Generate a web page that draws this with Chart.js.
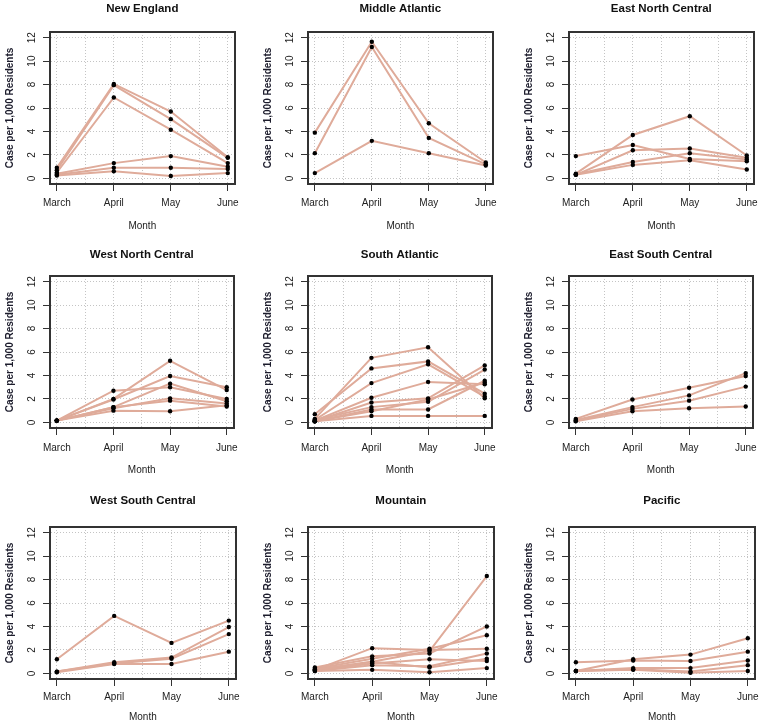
<!DOCTYPE html>
<html>
<head>
<meta charset="utf-8">
<title>Cases per 1,000 residents by census division</title>
<script src="https://cdn.jsdelivr.net/npm/chart.js@4.4.0/dist/chart.umd.min.js"></script>
<style>
  html, body { margin: 0; padding: 0; background: #fff; }
  #root { position: relative; width: 762px; height: 726px; overflow: hidden; background: #fff; }
  #root canvas { position: absolute; }
</style>
</head>
<body>
<div id="root"></div>
<script>
// months on the x axis, grid steps and y ticks
const months = ['March', 'April', 'May', 'June'];
const monthGrid = [1, 1.5, 2, 2.5, 3, 3.5, 4];
const yTicks = [0, 2, 4, 6, 8, 10, 12];

// one array per state, values for March..June
const newEngland = [
    [0.9, 8.05, 5.7, 1.8],
    [0.7, 7.95, 5.05, 1.75],
    [0.5, 6.9, 4.15, 1.3],
    [0.4, 1.3, 1.9, 1.0],
    [0.3, 0.9, 0.9, 0.8],
    [0.25, 0.6, 0.2, 0.45]
];
const middleAtlantic = [
    [3.9, 11.65, 4.7, 1.35],
    [2.15, 11.2, 3.45, 1.2],
    [0.45, 3.2, 2.15, 1.1]
];
const eastNorthCentral = [
    [0.4, 3.7, 5.3, 1.95],
    [1.9, 2.85, 1.65, 1.45],
    [0.3, 2.4, 2.55, 1.75],
    [0.35, 1.4, 2.15, 1.6],
    [0.3, 1.15, 1.55, 0.75]
];
const westNorthCentral = [
    [0.15, 2.0, 5.25, 2.75],
    [0.15, 2.7, 3.0, 2.0],
    [0.15, 1.95, 3.95, 3.0],
    [0.15, 1.3, 3.3, 1.8],
    [0.15, 1.2, 2.05, 1.6],
    [0.15, 1.3, 1.85, 1.35],
    [0.15, 1.0, 0.95, 1.45]
];
const southAtlantic = [
    [0.3, 5.5, 6.4, 2.05],
    [0.7, 4.6, 5.2, 2.45],
    [0.2, 3.35, 4.95, 2.2],
    [0.15, 2.1, 3.45, 3.25],
    [0.1, 1.7, 2.05, 4.85],
    [0.2, 1.3, 1.75, 4.5],
    [0.1, 1.1, 1.1, 3.55],
    [0.1, 0.95, 1.95, 3.4],
    [0.1, 0.55, 0.55, 0.55]
];
const eastSouthCentral = [
    [0.3, 1.95, 2.95, 3.95],
    [0.2, 1.3, 2.3, 4.2],
    [0.15, 1.15, 1.85, 3.05],
    [0.1, 0.95, 1.2, 1.35]
];
const westSouthCentral = [
    [1.2, 4.9, 2.6, 4.5],
    [0.15, 0.95, 1.35, 3.95],
    [0.15, 0.85, 1.25, 3.35],
    [0.1, 0.8, 0.8, 1.85]
];
const mountain = [
    [0.3, 1.0, 1.9, 8.3],
    [0.5, 1.45, 1.7, 4.0],
    [0.4, 1.25, 2.1, 3.25],
    [0.3, 2.15, 2.0, 2.1],
    [0.25, 0.85, 1.2, 1.05],
    [0.2, 0.7, 0.6, 1.7],
    [0.2, 0.3, 0.1, 0.45],
    [0.3, 1.0, 0.5, 1.25]
];
const pacific = [
    [0.2, 1.2, 1.6, 3.0],
    [0.95, 1.1, 1.05, 1.85],
    [0.2, 0.45, 0.45, 1.1],
    [0.2, 0.35, 0.15, 0.7],
    [0.2, 0.3, 0.05, 0.2]
];

const panels = [
    {title: 'New England', series: newEngland},
    {title: 'Middle Atlantic', series: middleAtlantic},
    {title: 'East North Central', series: eastNorthCentral},
    {title: 'West North Central', series: westNorthCentral},
    {title: 'South Atlantic', series: southAtlantic},
    {title: 'East South Central', series: eastSouthCentral},
    {title: 'West South Central', series: westSouthCentral},
    {title: 'Mountain', series: mountain},
    {title: 'Pacific', series: pacific}
];

// layout of one small panel
const FONT = '"Liberation Sans", Arial, sans-serif';
const LINE_COLOR = '#dfab9a';
const GRID_COLOR = '#c4c4c4';
const AXIS_COLOR = '#333333';
const TEXT_COLOR = '#222222';
const PLOT_LEFT = 50, PLOT_TOP = 36, PLOT_W = 187, PLOT_H = 152;
const CANVAS_W = 245, CANVAS_H = 240;
const colLeft = [0, 258, 519];
const rowTop = [-4, 240, 491];
const titlePadTop = [6.4, 8.4, 2.8];
const tickPad = [6, 7, 5];
const monthPad = [3.3, 3.7, 7.7];

const root = document.getElementById('root');

function makePanel(panel, idx) {
    const row = Math.floor(idx / 3);
    const col = idx % 3;
    const canvas = document.createElement('canvas');
    canvas.width = CANVAS_W;
    canvas.height = CANVAS_H;
    canvas.style.left = colLeft[col] + 'px';
    canvas.style.top = rowTop[row] + 'px';
    root.append(canvas);

    const toPoints = values => values.map((v, i) => ({x: i + 1, y: v}));
    // lines first, black points on top
    const lineSets = panel.series.map(values => ({
        data: toPoints(values),
        borderColor: LINE_COLOR,
        borderWidth: 2,
        pointRadius: 0,
        tension: 0,
        order: 2
    }));
    const pointSets = panel.series.map(values => ({
        data: toPoints(values),
        showLine: false,
        pointRadius: 2.2,
        pointBorderWidth: 0,
        pointBackgroundColor: '#000',
        order: 1
    }));

    const titleSize = 11.5;
    new Chart(canvas, {
        type: 'line',
        data: {datasets: lineSets.concat(pointSets)},
        options: {
            responsive: false,
            animation: false,
            events: [],
            layout: {padding: {left: 0, top: 0, bottom: 0, right: CANVAS_W - PLOT_LEFT - PLOT_W}},
            plugins: {
                legend: {display: false},
                tooltip: {enabled: false},
                title: {
                    display: true,
                    text: panel.title,
                    fullSize: false,
                    color: '#111',
                    font: {family: FONT, size: titleSize, weight: 'bold'},
                    padding: {top: titlePadTop[row], bottom: PLOT_TOP - titlePadTop[row] - titleSize * 1.2}
                }
            },
            scales: {
                x: {
                    type: 'linear',
                    position: 'bottom',
                    min: 0.88,
                    max: 4.12,
                    afterBuildTicks: s => { s.ticks = monthGrid.map(v => ({value: v})); },
                    afterFit: s => { s.height = CANVAS_H - PLOT_TOP - PLOT_H; },
                    ticks: {
                        autoSkip: false, minRotation: 0, maxRotation: 0,
                        padding: tickPad[row], color: TEXT_COLOR,
                        font: {family: FONT, size: 10},
                        callback: v => Number.isInteger(v) ? months[v - 1] : ''
                    },
                    grid: {
                        color: GRID_COLOR, lineWidth: 1, tickLength: 7, tickWidth: 1,
                        tickColor: c => (c.tick && Number.isInteger(c.tick.value)) ? AXIS_COLOR : 'rgba(0,0,0,0)'
                    },
                    border: {color: AXIS_COLOR, width: 2, dash: [1, 2]},
                    title: {
                        display: true, text: 'Month', color: TEXT_COLOR,
                        font: {family: FONT, size: 10},
                        padding: {top: 0, bottom: monthPad[row]}
                    }
                },
                y: {
                    type: 'linear',
                    position: 'left',
                    min: -0.48,
                    max: 12.48,
                    afterBuildTicks: s => { s.ticks = yTicks.map(v => ({value: v})); },
                    afterFit: s => { s.width = PLOT_LEFT; },
                    ticks: {
                        autoSkip: false, minRotation: 90, maxRotation: 90, crossAlign: 'center',
                        padding: 5, color: TEXT_COLOR, font: {family: FONT, size: 10}
                    },
                    grid: {color: GRID_COLOR, lineWidth: 1, tickLength: 7, tickWidth: 1, tickColor: AXIS_COLOR},
                    border: {color: AXIS_COLOR, width: 2, dash: [1, 2]},
                    title: {
                        display: true, text: 'Case per 1,000 Residents', color: '#1c1c2c',
                        font: {family: FONT, size: 10, weight: 'bold'},
                        padding: {top: 4.5, bottom: 0}
                    }
                },
                x2: {
                    type: 'linear', position: 'top',
                    afterFit: s => { s.height = 0; },
                    ticks: {display: false},
                    grid: {drawOnChartArea: false, drawTicks: false},
                    border: {color: AXIS_COLOR, width: 2}
                },
                y2: {
                    type: 'linear', position: 'right',
                    afterFit: s => { s.width = 0; },
                    ticks: {display: false},
                    grid: {drawOnChartArea: false, drawTicks: false},
                    border: {color: AXIS_COLOR, width: 2}
                }
            }
        }
    });
}

panels.forEach(makePanel);
</script>
</body>
</html>
